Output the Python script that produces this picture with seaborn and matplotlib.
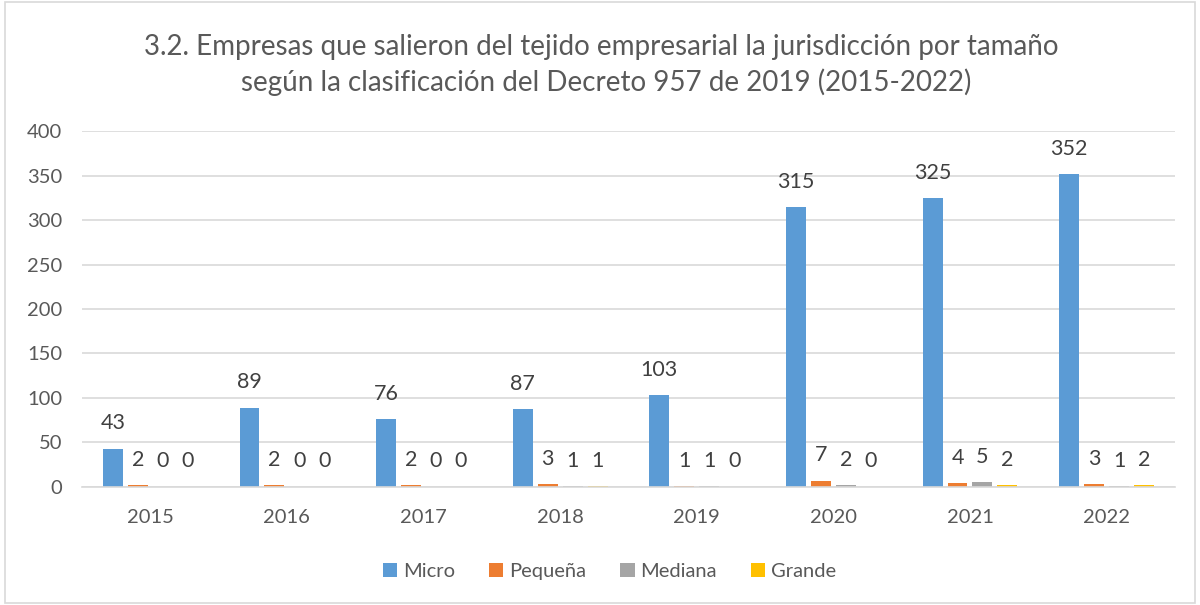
import numpy as np
import pandas as pd
import matplotlib
matplotlib.use("Agg")
import matplotlib.pyplot as plt
from matplotlib.patches import Rectangle
import seaborn as sns

# Datos
anios = ["2015", "2016", "2017", "2018", "2019", "2020", "2021", "2022"]
micro = [43, 89, 76, 87, 103, 315, 325, 352]
pequena = [2, 2, 2, 3, 1, 7, 4, 3]
mediana = [0, 0, 0, 1, 1, 2, 5, 1]
grande = [0, 0, 0, 1, 0, 0, 2, 2]
tamanos = ["Micro", "Pequeña", "Mediana", "Grande"]
colores = ["#5B9BD5", "#ED7D31", "#A5A5A5", "#FFC000"]

df = pd.DataFrame({
    "anio": anios * 4,
    "valor": micro + pequena + mediana + grande,
    "tamano": [t for t in tamanos for _ in anios],
})

sns.set_theme(style="white")
plt.rcParams["font.family"] = ["Lato", "DejaVu Sans"]

fig = plt.figure(figsize=(12, 6.05), dpi=100)
ax = fig.add_axes([0.0683, 0.1955, 0.9108, 0.5875])

sns.barplot(data=df, x="anio", y="valor", hue="tamano", hue_order=tamanos,
            palette=colores, width=0.73, gap=0.2, ax=ax, legend=True,
            saturation=1, edgecolor="none")

for cont in ax.containers:
    ax.bar_label(cont, padding=11, fontsize=15.5, color="#404040")

ax.set_ylim(0, 400)
ax.set_yticks(np.arange(0, 401, 50))
ax.set_xlim(-0.5, len(anios) - 0.5)
ax.yaxis.grid(True, color="#D9D9D9", linewidth=1.2)
ax.set_axisbelow(True)
for s in ["top", "right", "left"]:
    ax.spines[s].set_visible(False)
ax.spines["bottom"].set_color("#D9D9D9")
ax.spines["bottom"].set_linewidth(1.2)
ax.tick_params(axis="y", length=0, pad=14, labelsize=14.5, labelcolor="#595959")
ax.tick_params(axis="x", length=0, pad=16, labelsize=14.5, labelcolor="#595959")
ax.set_xlabel("")
ax.set_ylabel("")

handles, labels = ax.get_legend_handles_labels()
ax.get_legend().remove()
fig.legend(handles, labels, loc="center", bbox_to_anchor=(0.508, 0.056), ncol=4,
           frameon=False, fontsize=14.5, handlelength=0.7, handleheight=0.7,
           handletextpad=0.3, columnspacing=1.7, labelcolor="#595959")

fig.text(0.501, 0.922, "3.2. Empresas que salieron del tejido empresarial la jurisdicción por tamaño",
         ha="center", va="center", fontsize=20, color="#595959")
fig.text(0.505, 0.864, "según la clasificación del Decreto 957 de 2019 (2015-2022)",
         ha="center", va="center", fontsize=20, color="#595959")

fig.patches.append(Rectangle((0.004, 0.004), 0.992, 0.992, transform=fig.transFigure,
                             fill=False, edgecolor="#D9D9D9", linewidth=1.2))

fig.savefig("out.png", dpi=100)
